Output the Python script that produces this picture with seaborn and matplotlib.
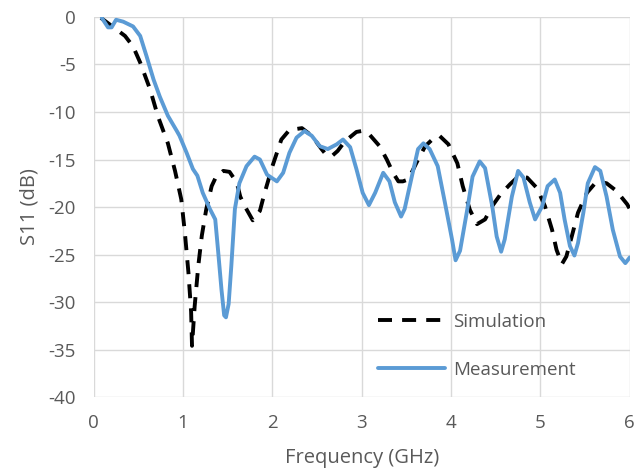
import matplotlib
matplotlib.use("Agg")
import matplotlib.pyplot as plt
import seaborn as sns
import pandas as pd

# Simulated S11
sim_freq = [0.08, 0.18, 0.35, 0.44, 0.52, 0.63, 0.72, 0.83, 0.91, 0.98,
            1.02, 1.06, 1.09, 1.10, 1.13, 1.17, 1.21, 1.26, 1.32, 1.37,
            1.45, 1.52, 1.60, 1.64, 1.69, 1.78, 1.86, 1.91, 2.00, 2.10,
            2.19, 2.33, 2.44, 2.55, 2.61, 2.67, 2.73, 2.81, 2.94, 3.00,
            3.07, 3.20, 3.28, 3.35, 3.41, 3.46, 3.52, 3.62, 3.71, 3.80,
            3.87, 3.97, 4.07, 4.13, 4.21, 4.29, 4.38, 4.46, 4.55, 4.66,
            4.75, 4.85, 4.96, 5.05, 5.13, 5.18, 5.24, 5.29, 5.35, 5.42,
            5.52, 5.63, 5.74, 5.85, 5.97, 6.00]
sim_db = [-0.1, -0.8, -2.0, -3.1, -4.8, -7.6, -10.5, -13.3, -16.2, -19.2,
          -22.7, -26.9, -31.0, -34.6, -30.4, -26.2, -23.0, -20.2, -17.8, -16.8,
          -16.2, -16.3, -17.4, -18.9, -19.9, -21.4, -20.4, -18.6, -15.7, -12.9,
          -11.9, -11.7, -12.5, -13.9, -14.6, -14.6, -14.1, -13.1, -12.1, -12.0,
          -12.2, -13.6, -15.0, -16.4, -17.3, -17.3, -17.1, -15.2, -13.6, -12.8,
          -12.5, -13.4, -15.4, -17.8, -20.3, -21.8, -21.3, -19.9, -18.7, -17.6,
          -16.8, -16.9, -18.0, -19.9, -22.4, -24.5, -26.0, -25.2, -23.1, -20.6,
          -18.5, -17.3, -17.5, -18.3, -19.7, -20.2]

# Measured S11
meas_freq = [0.09, 0.16, 0.20, 0.25, 0.33, 0.44, 0.52, 0.59, 0.67, 0.74,
             0.83, 0.93, 0.96, 1.04, 1.11, 1.16, 1.22, 1.30, 1.36, 1.39,
             1.43, 1.46, 1.48, 1.51, 1.54, 1.58, 1.63, 1.71, 1.80, 1.86,
             1.94, 2.05, 2.12, 2.19, 2.27, 2.36, 2.44, 2.53, 2.62, 2.72,
             2.79, 2.87, 2.94, 3.01, 3.08, 3.15, 3.24, 3.31, 3.37, 3.44,
             3.48, 3.56, 3.63, 3.69, 3.76, 3.85, 3.93, 4.01, 4.05, 4.10,
             4.18, 4.24, 4.32, 4.38, 4.46, 4.51, 4.56, 4.60, 4.68, 4.75,
             4.81, 4.88, 4.94, 5.02, 5.08, 5.16, 5.22, 5.27, 5.33, 5.38,
             5.42, 5.48, 5.53, 5.61, 5.67, 5.74, 5.81, 5.89, 5.95, 6.00]
meas_db = [-0.1, -1.1, -1.1, -0.3, -0.5, -1.0, -2.0, -4.1, -6.6, -8.4,
           -10.4, -12.0, -12.5, -14.3, -16.0, -16.7, -18.5, -20.2, -21.3, -24.4,
           -28.7, -31.4, -31.6, -30.2, -26.2, -20.2, -17.5, -15.7, -14.7, -15.0,
           -16.6, -17.3, -16.4, -14.3, -12.7, -12.0, -12.5, -13.6, -13.9, -13.4,
           -12.9, -13.7, -16.0, -18.5, -19.8, -18.5, -16.4, -17.3, -19.5, -21.0,
           -20.2, -16.8, -13.9, -13.3, -13.9, -15.7, -19.5, -23.4, -25.6, -24.6,
           -20.3, -16.8, -15.2, -15.9, -19.9, -23.1, -24.7, -23.4, -18.9, -16.2,
           -16.9, -19.5, -21.3, -19.9, -17.8, -17.1, -18.5, -21.3, -24.1, -25.1,
           -23.8, -20.6, -17.5, -15.8, -16.2, -18.9, -22.4, -25.2, -25.9, -25.3]

sim = pd.DataFrame({"f": sim_freq, "s11": sim_db})
meas = pd.DataFrame({"f": meas_freq, "s11": meas_db})

sns.set_style("white")
plt.rcParams["font.family"] = ["Open Sans", "DejaVu Sans"]
plt.rcParams["axes.unicode_minus"] = False
text_col = "#595959"

fig = plt.figure(figsize=(6.42, 4.70), dpi=100)
ax = fig.add_axes([0.146, 0.155, 0.835, 0.809])

sns.lineplot(data=sim, x="f", y="s11", ax=ax, color="black", lw=2.8,
             label="Simulation", sort=False)
ax.lines[-1].set_dashes([3.6, 2.6])
sns.lineplot(data=meas, x="f", y="s11", ax=ax, color="#5B9BD5", lw=2.8,
             label="Measurement", sort=False, solid_joinstyle="round",
             solid_capstyle="round")

ax.set_xlim(0, 6)
ax.set_ylim(-40, 0)
ax.set_xticks(range(0, 7))
ax.set_yticks(range(-40, 1, 5))
ax.grid(True, color="#d9d9d9", lw=1)
for s in ax.spines.values():
    s.set_visible(False)
ax.tick_params(axis="x", length=0, labelsize=13.5, colors=text_col, pad=12)
ax.tick_params(axis="y", length=0, labelsize=13.5, colors=text_col, pad=13)
ax.set_xlabel("Frequency (GHz)", fontsize=14.5, color=text_col, labelpad=12)
ax.set_ylabel("S11 (dB)", fontsize=14.5, color=text_col, labelpad=6)

leg = ax.legend(loc="upper left", bbox_to_anchor=(0.53, 0.222), frameon=False,
                fontsize=13.5, handlelength=3.6, handletextpad=0.4,
                labelspacing=1.6, borderpad=0, borderaxespad=0)
for t in leg.get_texts():
    t.set_color(text_col)
leg.get_lines()[0].set_dashes([3.6, 2.6])

fig.savefig("out.png", dpi=100)
